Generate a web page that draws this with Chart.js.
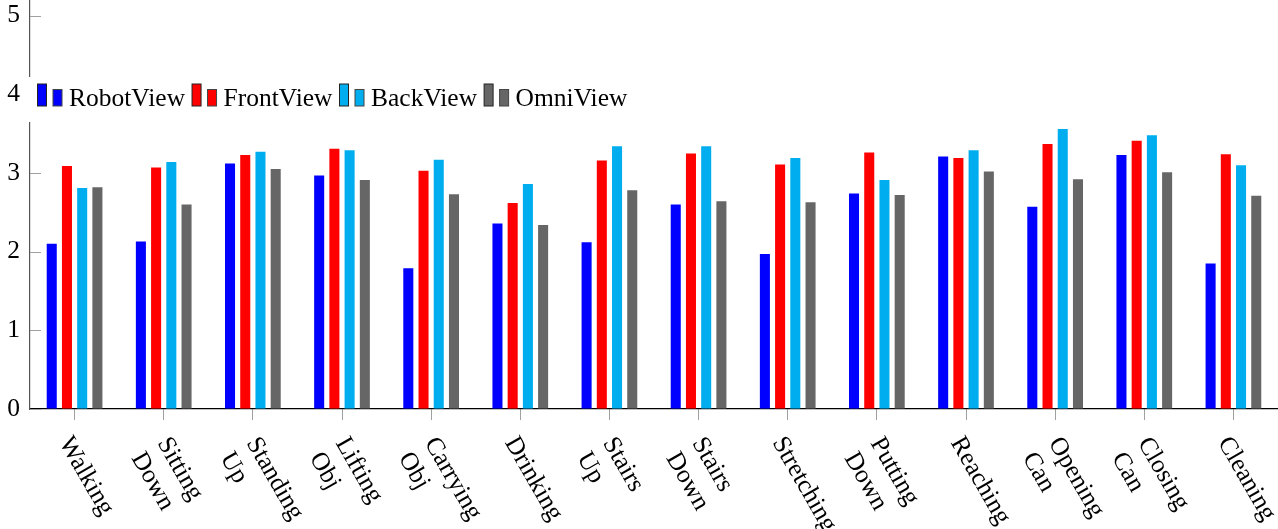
<!DOCTYPE html>
<html>
<head>
<meta charset="utf-8">
<script src="https://cdn.jsdelivr.net/npm/chart.js@4/dist/chart.umd.min.js"></script>
<style>
  html, body { margin: 0; padding: 0; background: #fff; }
  #wrap { width: 1278px; height: 529px; }
</style>
</head>
<body>
<div id="wrap"><canvas id="c" width="1278" height="529"></canvas></div>
<script>
// Activities (multi-line labels)
const categories = [
  ['Walking'], ['Sitting', 'Down'], ['Standing', 'Up'], ['Lifting', 'Obj'],
  ['Carrying', 'Obj'], ['Drinking'], ['Stairs', 'Up'], ['Stairs', 'Down'],
  ['Stretching'], ['Putting', 'Down'], ['Reaching'], ['Opening', 'Can'],
  ['Closing', 'Can'], ['Cleaning']
];

// Mean scores per viewpoint
const robotView = [2.10, 2.13, 3.12, 2.97, 1.79, 2.36, 2.12, 2.60, 1.97, 2.74, 3.21, 2.57, 3.23, 1.85];
const frontView = [3.09, 3.07, 3.23, 3.31, 3.03, 2.62, 3.16, 3.25, 3.11, 3.26, 3.19, 3.37, 3.41, 3.24];
const backView  = [2.81, 3.14, 3.27, 3.29, 3.17, 2.86, 3.34, 3.34, 3.19, 2.91, 3.29, 3.56, 3.48, 3.10];
const omniView  = [2.82, 2.60, 3.05, 2.91, 2.73, 2.34, 2.78, 2.64, 2.63, 2.72, 3.02, 2.92, 3.01, 2.71];

const yTicks = [0, 1, 2, 3, 4, 5];

const FONT = '"Liberation Serif", "Times New Roman", serif';
const FSIZE = 25.5;

const series = [
  { label: 'RobotView', data: robotView, color: '#0000ff' },
  { label: 'FrontView', data: frontView, color: '#ff0000' },
  { label: 'BackView',  data: backView,  color: '#00aeef' },
  { label: 'OmniView',  data: omniView,  color: '#666666' }
];

const decor = {
  id: 'decor',
  beforeDatasetsDraw(chart) {
    // inward tick marks on the y axis
    const ctx = chart.ctx, y = chart.scales.y, left = chart.chartArea.left;
    ctx.save();
    ctx.strokeStyle = '#a0a0a0';
    ctx.lineWidth = 1;
    yTicks.forEach(v => {
      const py = Math.round(y.getPixelForValue(v)) + 0.5;
      ctx.beginPath();
      ctx.moveTo(left, py);
      ctx.lineTo(left + 11, py);
      ctx.stroke();
    });
    ctx.restore();
  },
  afterDraw(chart) {
    const ctx = chart.ctx;
    const xs = chart.scales.x;
    const axisY = chart.chartArea.bottom;
    ctx.save();
    ctx.font = FSIZE + 'px ' + FONT;
    ctx.fillStyle = '#000';

    // rotated category labels, lines left-aligned
    const ang = 60 * Math.PI / 180;
    const lineH = 30;
    categories.forEach((lines, i) => {
      const tx = xs.getPixelForTick(i);
      const extra = lines.length - 1;
      ctx.save();
      ctx.translate(tx - 10 - 4 * extra, axisY + 30 + 8 * extra);
      ctx.rotate(ang);
      ctx.textAlign = 'left';
      ctx.textBaseline = 'middle';
      lines.forEach((l, k) => {
        const off = (k - extra / 2) * lineH;
        ctx.fillText(l, 0, off);
      });
      ctx.restore();
    });

    // legend inside the plot
    ctx.textAlign = 'left';
    ctx.textBaseline = 'alphabetic';
    let x = 37.5;
    const items = [];
    series.forEach(s => {
      const w = ctx.measureText(s.label).width;
      items.push({ s, x, w });
      x += 31.5 + w + 7;
    });
    const boxRight = x + 1;
    ctx.fillStyle = '#fff';
    ctx.fillRect(27, 77, boxRight - 27, 45);
    items.forEach(({ s, x }) => {
      ctx.fillStyle = s.color;
      ctx.fillRect(x, 84, 9, 22);
      ctx.fillRect(x + 15.5, 89.5, 9, 16.5);
      ctx.lineWidth = 1;
      ctx.strokeStyle = '#222';
      ctx.strokeRect(x, 84, 9, 22);
      ctx.strokeStyle = '#444';
      ctx.strokeRect(x + 15.5, 89.5, 9, 16.5);
      ctx.fillStyle = '#000';
      ctx.fillText(s.label, x + 31.5, 106);
    });
    ctx.restore();
  }
};

new Chart(document.getElementById('c'), {
  type: 'bar',
  data: {
    labels: categories,
    datasets: series.map(s => ({
      label: s.label,
      data: s.data,
      backgroundColor: s.color,
      borderWidth: 0,
      categoryPercentage: 0.683,
      barPercentage: 0.66
    }))
  },
  options: {
    responsive: false,
    animation: false,
    events: [],
    layout: { padding: 0 },
    plugins: { legend: { display: false }, tooltip: { enabled: false } },
    scales: {
      x: {
        offset: true,
        grid: { display: true, drawOnChartArea: false, drawTicks: true, tickLength: 11, color: '#a0a0a0', offset: false },
        border: { display: true, color: '#000', width: 1.2 },
        ticks: { display: false },
        afterFit(s) { s.height = 120; s.paddingLeft = 0; s.paddingRight = 0; }
      },
      y: {
        min: 0,
        max: 5.2,
        grid: { display: true, drawOnChartArea: false, drawTicks: false },
        border: { display: true, color: '#555', width: 1.2 },
        ticks: {
          stepSize: 1,
          includeBounds: false,
          padding: 10,
          color: '#000',
          font: { family: FONT, size: FSIZE }
        },
        afterFit(s) { s.width = 30; s.paddingTop = 0; s.paddingBottom = 0; }
      }
    }
  },
  plugins: [decor]
});
</script>
</body>
</html>
